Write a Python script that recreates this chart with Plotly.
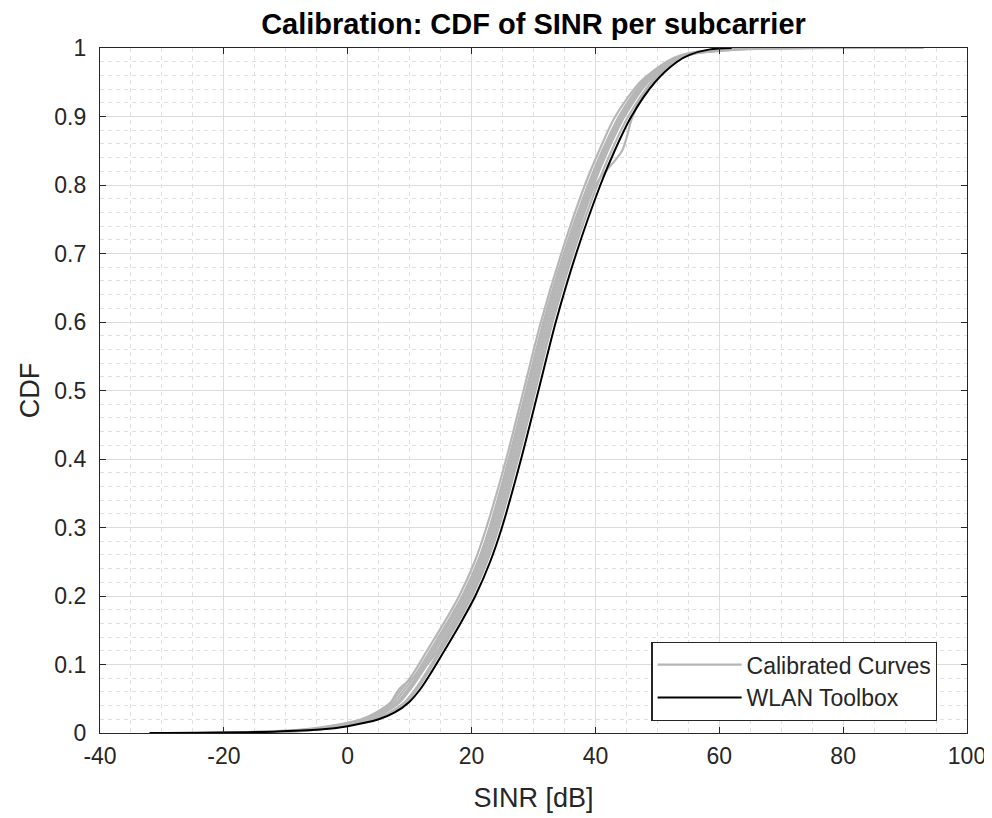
import plotly.graph_objects as go

# CDF levels shared by all curves
cdf_levels = [0, 0.002, 0.005, 0.01, 0.02, 0.03, 0.045, 0.065, 0.09, 0.12, 0.16, 0.2, 0.25,
              0.3, 0.4, 0.5, 0.6, 0.7, 0.8, 0.85, 0.9, 0.95, 0.98, 0.99, 0.998, 1.0]

# SINR [dB] values at each CDF level
wlan_toolbox = [-32, -12, -4.5, 0.0, 5.0, 7.6, 9.9, 11.8, 13.6, 15.6, 18.2, 20.6, 23.0,
                24.9, 28.0, 30.8, 33.6, 36.9, 40.8, 43.1, 45.8, 49.6, 53.2, 55.2, 58.5, 62]

calib_1 = [-22, -14, -7.5, -3.0, 2.2, 4.6, 7.0, 8.8, 10.8, 12.8, 15.5, 18.0, 20.5,
           22.4, 25.6, 28.4, 31.2, 34.5, 38.3, 40.6, 43.2, 47.2, 51.5, 54.0, 60, 80]
calib_2 = [-25, -13, -6.5, -2.5, 2.7, 5.1, 7.5, 9.3, 11.3, 13.3, 16.0, 18.5, 21.0,
           22.9, 26.0, 28.8, 31.6, 34.9, 38.8, 41.1, 43.8, 47.6, 51.8, 54.3, 62, 75]
calib_3 = [-18, -11, -6, -2.0, 3.2, 5.6, 8.0, 9.8, 11.7, 13.7, 16.4, 18.9, 21.3,
           23.2, 26.3, 29.1, 31.9, 35.2, 39.1, 41.4, 44.1, 48.0, 52.2, 54.6, 64, 93]
calib_4 = [-20, -10, -5.5, -1.5, 3.6, 6.0, 8.4, 10.2, 12.1, 14.1, 16.8, 19.2, 21.6,
           23.5, 26.6, 29.4, 32.2, 35.5, 39.4, 41.7, 44.4, 48.2, 52.4, 54.8, 60, 70]
calib_5 = [-23, -12, -5.5, -1.3, 3.9, 6.0, 7.0, 8.4, 11.8, 14.5, 17.1, 19.5, 21.9,
           23.8, 26.9, 29.7, 32.5, 35.8, 39.7, 42.0, 44.7, 48.5, 52.6, 55.0, 61, 78]
calib_6 = [-15, -9, -5, -0.8, 4.4, 6.8, 9.2, 11.0, 12.8, 14.8, 17.4, 19.8, 22.2,
           24.1, 27.2, 30.0, 32.8, 36.1, 40.0, 44.3, 46.0, 49.0, 52.8, 55.2, 62, 85]
calib_7 = [-19, -10, -5, -0.5, 4.7, 7.1, 9.5, 11.3, 13.1, 15.1, 17.7, 20.1, 22.5,
           24.4, 27.5, 30.3, 33.1, 36.4, 40.3, 42.6, 45.3, 49.1, 52.9, 55.0, 63, 72]
calib_8 = [-24, -11, -5.5, -1.7, 3.5, 5.8, 8.2, 10.0, 11.7, 13.7, 16.3, 18.7, 21.1,
           23.0, 26.1, 28.9, 31.7, 35.0, 38.9, 41.2, 43.9, 47.7, 51.9, 54.4, 61, 76]

calibrated = [calib_1, calib_2, calib_3, calib_4, calib_5, calib_6, calib_7, calib_8]

x_ticks = [-40, -20, 0, 20, 40, 60, 80, 100]
x_tick_text = ["-40", "-20", "0", "20", "40", "60", "80", "100"]
y_ticks = [0, 0.1, 0.2, 0.3, 0.4, 0.5, 0.6, 0.7, 0.8, 0.9, 1]
y_tick_text = ["0", "0.1", "0.2", "0.3", "0.4", "0.5", "0.6", "0.7", "0.8", "0.9", "1"]

FONT = "Liberation Sans, Arial, Helvetica, sans-serif"
GRAY = "rgb(182,182,182)"
AX = "#262626"

fig = go.Figure()
for i, c in enumerate(calibrated):
    fig.add_trace(go.Scatter(
        x=c, y=cdf_levels, mode="lines",
        line=dict(color=GRAY, width=2.2, shape="spline", smoothing=0.8),
        name="Calibrated Curves", legendgroup="cal", showlegend=(i == 0)))
fig.add_trace(go.Scatter(
    x=wlan_toolbox, y=cdf_levels, mode="lines",
    line=dict(color="black", width=2, shape="spline", smoothing=0.8),
    name="WLAN Toolbox"))

axis_common = dict(
    showline=True, linecolor=AX, linewidth=1.2, mirror="ticks",
    ticks="inside", ticklen=6, tickcolor=AX, tickwidth=1.2,
    showgrid=True, gridcolor="#dcdcdc", gridwidth=1,
    zeroline=False, automargin=False,
    tickfont=dict(family=FONT, size=23, color=AX),
)

fig.update_xaxes(
    range=[-40, 100], tickvals=x_ticks, ticktext=x_tick_text,
    minor=dict(dtick=5, showgrid=True, gridcolor="#e0e0e0", griddash="4px,4px", ticks=""),
    title=dict(text="SINR [dB]", font=dict(family=FONT, size=27, color=AX), standoff=20),
    ticklabelstandoff=2,
    **axis_common)
fig.update_yaxes(
    range=[0, 1], tickvals=y_ticks, ticktext=y_tick_text,
    minor=dict(dtick=0.02, showgrid=True, gridcolor="#e0e0e0", griddash="4px,4px", ticks=""),
    title=dict(text="CDF", font=dict(family=FONT, size=27, color=AX), standoff=6),
    ticklabelstandoff=8,
    **axis_common)

fig.update_layout(
    width=984, height=810,
    margin=dict(l=92, r=25, t=40, b=85),
    paper_bgcolor="white", plot_bgcolor="white",
    title=dict(text="<b>Calibration: CDF of SINR per subcarrier</b>",
               x=0.5, xref="paper", xanchor="center",
               y=1 - 16 / 810, yref="container", yanchor="middle",
               font=dict(family=FONT, size=29, color="black"),
               automargin=False),
    legend=dict(x=0.636, y=0.133, xanchor="left", yanchor="top",
                bgcolor="white", bordercolor=AX, borderwidth=1.2,
                font=dict(family=FONT, size=23, color=AX),
                tracegroupgap=0, itemwidth=84),
    showlegend=True,
)

fig.write_html("out.html")
